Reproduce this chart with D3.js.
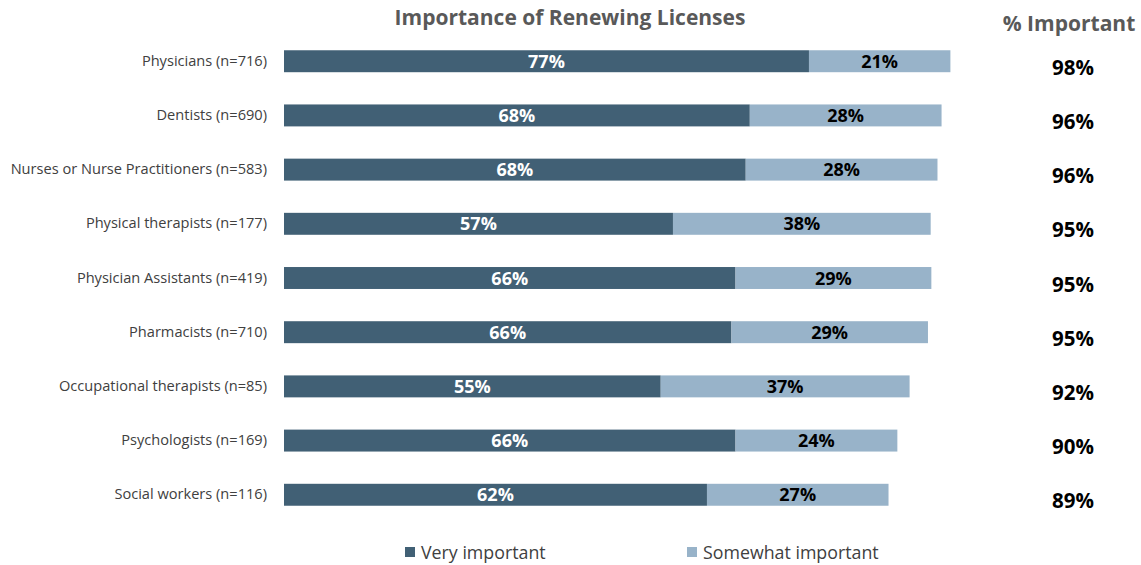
<!DOCTYPE html>
<html>
<head>
<meta charset="utf-8">
<script src="https://cdn.jsdelivr.net/npm/d3@7/dist/d3.min.js"></script>
<style>
  html, body { margin: 0; padding: 0; background: #fff; }
  svg { display: block; font-family: "Open Sans", "Noto Sans", sans-serif; }
</style>
</head>
<body>
<svg id="chart" width="1141" height="565"></svg>
<script>
const categories = [
  "Physicians (n=716)",
  "Dentists (n=690)",
  "Nurses or Nurse Practitioners (n=583)",
  "Physical therapists (n=177)",
  "Physician Assistants (n=419)",
  "Pharmacists (n=710)",
  "Occupational therapists (n=85)",
  "Psychologists (n=169)",
  "Social workers (n=116)"
];
const veryImportant     = [77.2, 68.5, 67.9, 57.2, 66.4, 65.8, 55.4, 66.4, 62.2];
const somewhatImportant = [20.8, 28.2, 28.2, 37.9, 28.8, 28.9, 36.6, 23.8, 26.7];
const veryLabels     = ["77%", "68%", "68%", "57%", "66%", "66%", "55%", "66%", "62%"];
const somewhatLabels = ["21%", "28%", "28%", "38%", "29%", "29%", "37%", "24%", "27%"];
const totalLabels    = ["98%", "96%", "96%", "95%", "95%", "95%", "92%", "90%", "89%"];
const seriesNames = ["Very important", "Somewhat important"];
const chartTitle = "Importance of Renewing Licenses";
const totalTitle = "% Important";

const colors = ["#416075", "#98B3C9"];

const svg = d3.select("#chart");

const x = d3.scaleLinear().domain([0, 100]).range([284, 964]);
const y = d3.scaleBand().domain(categories).range([34, 522]).paddingInner(0.595).paddingOuter(0.3);

// Title
svg.append("text")
  .attr("x", 570).attr("y", 25)
  .attr("text-anchor", "middle")
  .attr("font-size", 21).attr("font-weight", 700)
  .attr("fill", "#595959")
  .text(chartTitle);

svg.append("text")
  .attr("x", 1069).attr("y", 31)
  .attr("text-anchor", "middle")
  .attr("font-size", 21).attr("font-weight", 700)
  .attr("fill", "#595959")
  .text(totalTitle);

const rows = categories.map((c, i) => ({
  cat: c, v: veryImportant[i], s: somewhatImportant[i],
  vl: veryLabels[i], sl: somewhatLabels[i], tl: totalLabels[i]
}));

// Category axis labels
const yAxis = d3.axisLeft(y).tickSize(0).tickPadding(0);
const gy = svg.append("g").attr("transform", "translate(267,0)").call(yAxis);
gy.select(".domain").remove();
gy.selectAll("text")
  .attr("font-size", 14.6)
  .attr("font-family", "'Open Sans', 'Noto Sans', sans-serif")
  .attr("fill", "#404040");

const g = svg.append("g");
const row = g.selectAll("g.row").data(rows).join("g").attr("class", "row");

row.append("rect")
  .attr("x", d => x(0))
  .attr("y", d => y(d.cat))
  .attr("width", d => x(d.v) - x(0))
  .attr("height", y.bandwidth())
  .attr("fill", colors[0]);

row.append("rect")
  .attr("x", d => x(d.v))
  .attr("y", d => y(d.cat))
  .attr("width", d => x(d.v + d.s) - x(d.v))
  .attr("height", y.bandwidth())
  .attr("fill", colors[1]);

row.append("text")
  .attr("x", d => (x(0) + x(d.v)) / 2)
  .attr("y", d => y(d.cat) + y.bandwidth() / 2)
  .attr("dy", "0.37em")
  .attr("text-anchor", "middle")
  .attr("font-size", 18).attr("font-weight", 700)
  .attr("fill", "#ffffff")
  .text(d => d.vl);

row.append("text")
  .attr("x", d => (x(d.v) + x(d.v + d.s)) / 2)
  .attr("y", d => y(d.cat) + y.bandwidth() / 2)
  .attr("dy", "0.37em")
  .attr("text-anchor", "middle")
  .attr("font-size", 18).attr("font-weight", 700)
  .attr("fill", "#000000")
  .text(d => d.sl);

row.append("text")
  .attr("x", 1073)
  .attr("y", d => y(d.cat) + y.bandwidth() / 2 + 6)
  .attr("dy", "0.37em")
  .attr("text-anchor", "middle")
  .attr("font-size", 20.5).attr("font-weight", 700)
  .attr("fill", "#000000")
  .text(d => d.tl);

// Legend
const legendX = [405, 687];
const lg = svg.append("g").selectAll("g").data(seriesNames).join("g")
  .attr("transform", (d, i) => `translate(${legendX[i]},547)`);
lg.append("rect").attr("width", 10).attr("height", 10).attr("fill", (d, i) => colors[i]);
lg.append("text")
  .attr("x", 16).attr("y", 5).attr("dy", "0.37em")
  .attr("font-size", 17.8).attr("fill", "#404040")
  .text(d => d);
</script>
</body>
</html>
